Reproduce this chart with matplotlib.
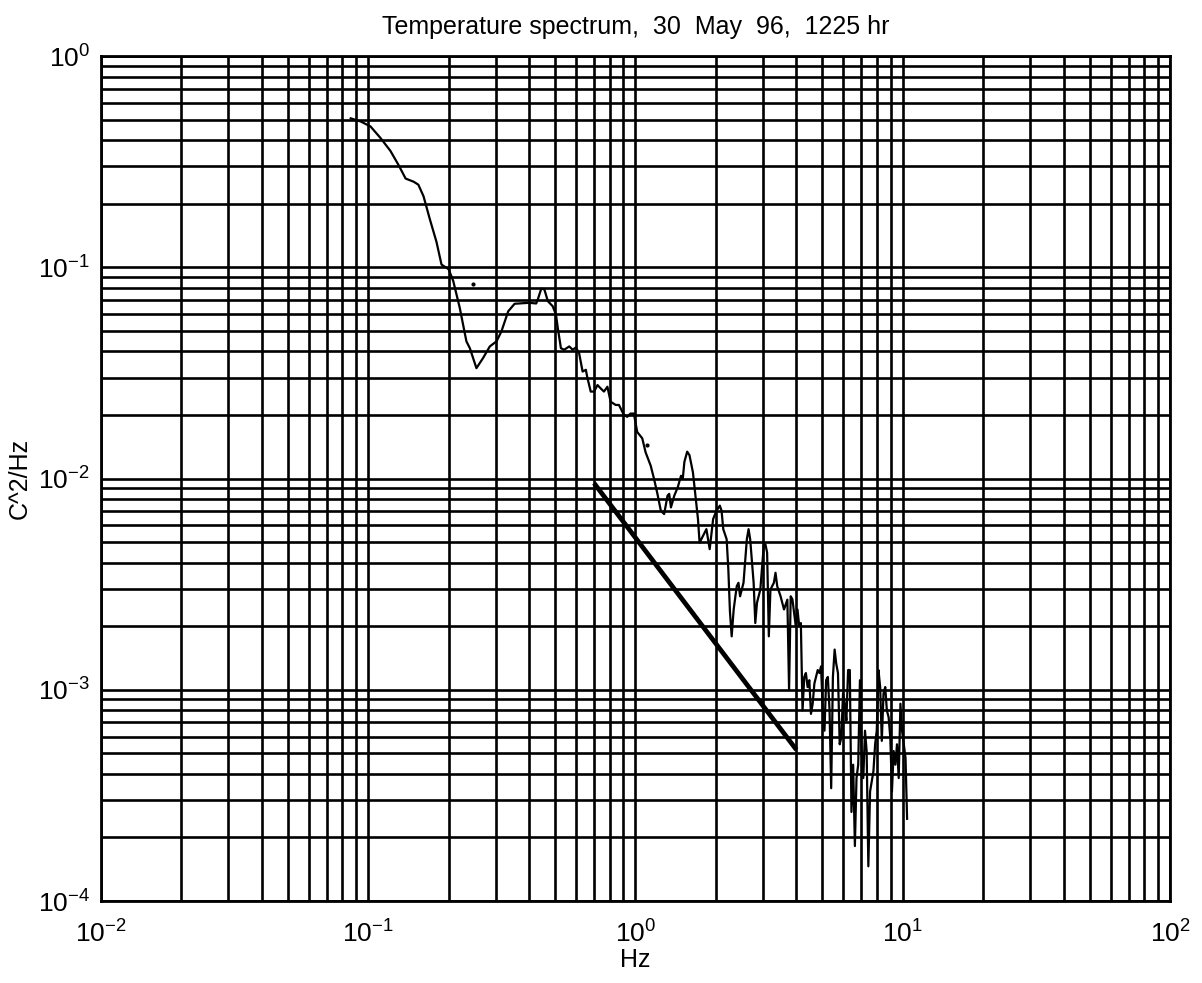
import matplotlib
matplotlib.use("Agg")
import matplotlib.pyplot as plt
from matplotlib.ticker import LogLocator, LogFormatterSciNotation, NullFormatter

plt.rcParams['font.family'] = ['Liberation Sans', 'DejaVu Sans']
plt.rcParams['mathtext.fontset'] = 'custom'
plt.rcParams['mathtext.rm'] = 'Liberation Sans'
plt.rcParams['mathtext.default'] = 'regular'
plt.rcParams['axes.unicode_minus'] = False

freq_hz = [0.0860, 0.0937, 0.102, 0.111, 0.121, 0.130, 0.138, 0.148, 0.154, 0.161,
           0.170, 0.180, 0.188, 0.200, 0.208, 0.220, 0.233, 0.240, 0.254, 0.269,
           0.285, 0.302, 0.315, 0.334, 0.353, 0.401, 0.425, 0.431, 0.444, 0.456,
           0.470, 0.490, 0.504, 0.512, 0.526, 0.541, 0.565, 0.582, 0.598, 0.615,
           0.634, 0.652, 0.661, 0.680, 0.700, 0.721, 0.741, 0.762, 0.785, 0.807,
           0.843, 0.867, 0.905, 0.931, 0.958, 0.986, 1.015, 1.060, 1.091, 1.140,
           1.173, 1.208, 1.244, 1.280, 1.318, 1.337, 1.357, 1.397, 1.439, 1.480,
           1.503, 1.524, 1.561, 1.592, 1.640, 1.687, 1.713, 1.737, 1.789, 1.842,
           1.895, 1.952, 2.009, 2.068, 2.099, 2.130, 2.193, 2.225, 2.256, 2.290,
           2.330, 2.392, 2.428, 2.462, 2.536, 2.610, 2.649, 2.686, 2.767, 2.807,
           2.848, 2.931, 3.019, 3.062, 3.108, 3.154, 3.198, 3.294, 3.341, 3.391,
           3.490, 3.595, 3.700, 3.755, 3.808, 3.865, 3.923, 3.978, 4.037, 4.098,
           4.156, 4.217, 4.280, 4.340, 4.405, 4.471, 4.534, 4.602, 4.670, 4.735,
           4.806, 4.878, 4.946, 5.020, 5.095, 5.167, 5.244, 5.322, 5.397, 5.478,
           5.560, 5.637, 5.722, 5.808, 5.890, 5.977, 6.067, 6.152, 6.244, 6.337,
           6.427, 6.522, 6.620, 6.713, 6.813, 6.915, 7.012, 7.117, 7.223, 7.325,
           7.434, 7.545, 7.766, 7.881, 7.992, 8.111, 8.231, 8.347, 8.472, 8.599,
           8.719, 8.851, 8.983, 9.110, 9.245, 9.383, 9.515, 9.656, 9.801, 9.939,
           10.09, 10.24, 10.38]
psd = [0.507, 0.490, 0.464, 0.410, 0.356, 0.304, 0.263, 0.254, 0.246, 0.217,
       0.169, 0.132, 0.103, 0.0978, 0.0861, 0.0643, 0.0446, 0.0414, 0.0333, 0.0372,
       0.0422, 0.0446, 0.0497, 0.0619, 0.0672, 0.0679, 0.0674, 0.0704, 0.0792, 0.0786,
       0.0691, 0.0654, 0.0597, 0.0516, 0.0414, 0.0407, 0.0422, 0.0407, 0.0417, 0.0393,
       0.0321, 0.0327, 0.0299, 0.0258, 0.0258, 0.0277, 0.0267, 0.0258, 0.0272, 0.0231,
       0.0223, 0.0223, 0.0200, 0.0196, 0.0203, 0.0203, 0.0166, 0.0155, 0.0133, 0.0115,
       0.00997, 0.00846, 0.00704, 0.00679, 0.00830, 0.00846, 0.00730, 0.00830, 0.00909, 0.0103,
       0.0100, 0.0120, 0.0134, 0.0129, 0.0107, 0.00771, 0.00643, 0.00497, 0.00535, 0.00576,
       0.00463, 0.00643, 0.00704, 0.00744, 0.00704, 0.00576, 0.00516, 0.00372, 0.00235, 0.00179,
       0.00240, 0.00309, 0.00321, 0.00277, 0.00321, 0.00516, 0.00576, 0.00516, 0.00321, 0.00207,
       0.00258, 0.00298, 0.00480, 0.00489, 0.00446, 0.00179, 0.00298, 0.00321, 0.00358, 0.00309,
       0.00277, 0.00240, 0.00267, 0.000997, 0.00277, 0.00268, 0.00231, 0.00200, 0.00240, 0.00200,
       0.00207, 0.000799, 0.00115, 0.00120, 0.00103, 0.00111, 0.000769, 0.000859, 0.00107, 0.00115,
       0.00124, 0.00120, 0.00129, 0.000799, 0.000640, 0.00111, 0.00115, 0.000799, 0.000342, 0.00115,
       0.00155, 0.00133, 0.00120, 0.000552, 0.000594, 0.000960, 0.000859, 0.000715, 0.00124, 0.00124,
       0.000264, 0.000442, 0.000182, 0.000382, 0.000442, 0.00111, 0.000513, 0.000382, 0.000640, 0.000513,
       0.000146, 0.000330, 0.000411, 0.000552, 0.000640, 0.00124, 0.00103, 0.000573, 0.000960, 0.00103,
       0.000799, 0.000742, 0.000594, 0.000330, 0.000513, 0.000442, 0.000552, 0.000382, 0.000859, 0.000640,
       0.000552, 0.000476, 0.000245]

# Droite de reference (pente -5/3)
ref_freq = [0.70, 4.0]
ref_psd = [0.0095, 0.00052]

# Points isoles du scan
dot_freq = [0.247, 1.107]
dot_psd = [0.083, 0.01436]

fig = plt.figure(figsize=(12.02, 9.83), dpi=100)
ax = fig.add_axes([0.084, 0.0834, 0.8894, 0.8596])

ax.loglog(freq_hz, psd, color='black', lw=1.6)
ax.loglog(ref_freq, ref_psd, color='black', lw=3.4, solid_capstyle='butt')
ax.loglog(dot_freq, dot_psd, 'o', color='black', ms=2)

ax.set_xlim(1e-2, 1e2)
ax.set_ylim(1e-4, 1e0)

for axis in (ax.xaxis, ax.yaxis):
    axis.set_major_locator(LogLocator(base=10, numticks=10))
    axis.set_minor_locator(LogLocator(base=10, subs=range(2, 10), numticks=50))
    axis.set_major_formatter(LogFormatterSciNotation())
    axis.set_minor_formatter(NullFormatter())

ax.grid(True, which='both', color='black', lw=1.9, ls='-')
ax.tick_params(which='both', length=0, labelsize=19, colors='black')
ax.tick_params(axis='x', pad=14)
ax.tick_params(axis='y', pad=8)
for sp in ax.spines.values():
    sp.set_linewidth(2)
    sp.set_color('black')

ax.set_title('Temperature spectrum,  30  May  96,  1225 hr', fontsize=18, pad=16)
ax.set_xlabel('Hz', fontsize=18, labelpad=0)
ax.set_ylabel('C^2/Hz', fontsize=18, labelpad=4)

fig.savefig('out.png', dpi=100)
